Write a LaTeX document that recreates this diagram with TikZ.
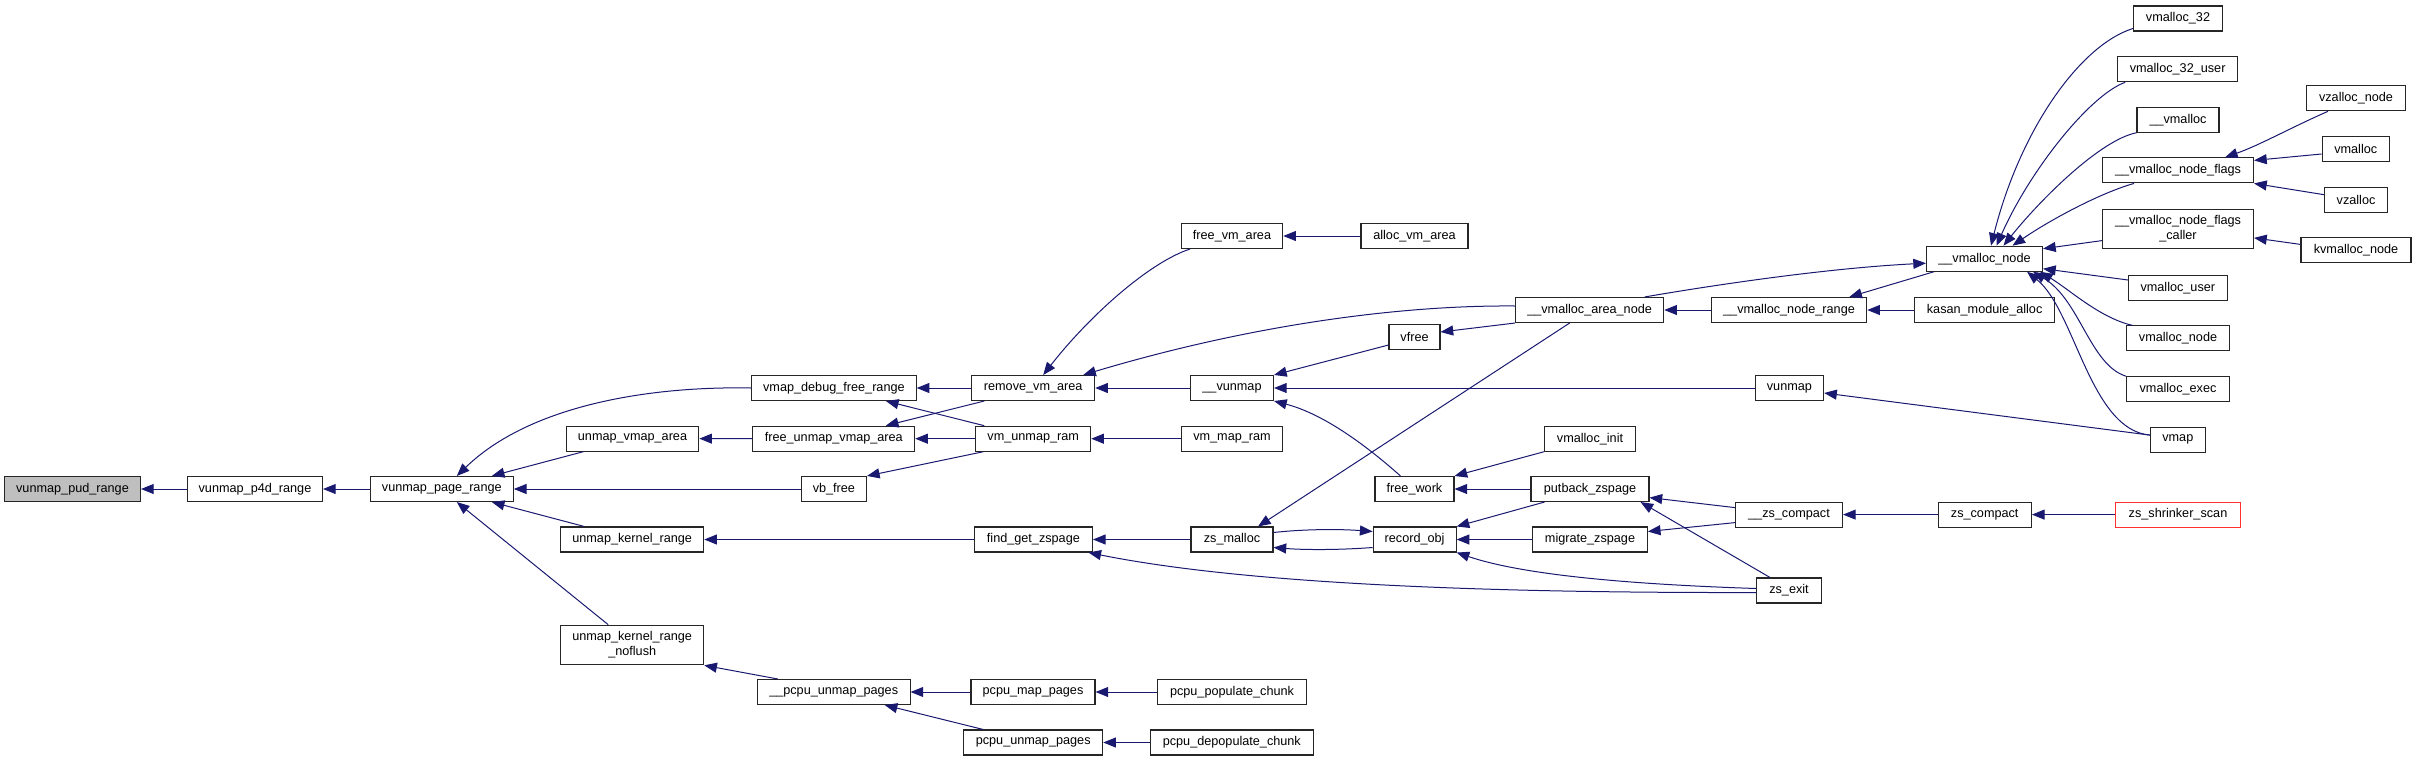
\documentclass[tikz,border=0pt]{standalone}
\usepackage{fontspec}
\setmainfont{Liberation Sans}
\usetikzlibrary{arrows.meta,positioning,calc}
\definecolor{EdgeBlue}{HTML}{191970}
\definecolor{BoxGrey}{HTML}{BFBFBF}
\definecolor{CutRed}{HTML}{FF3030}

\begin{document}
\begin{tikzpicture}[
    x=0.75pt, y=-0.75pt,
    fn/.style={draw=black!85, fill=white, line width=0.8pt, minimum height=18.75pt, inner sep=0pt, align=center, font=\fontsize{9.5}{11.2}\selectfont},
    cur/.style={fn, fill=BoxGrey},
    cut/.style={fn, draw=CutRed},
    tall/.style={minimum height=29.7pt},
    call/.style={-{Triangle[length=9.5pt,width=7.5pt]}, draw=EdgeBlue, line width=0.75pt}
  ]
    \useasboundingbox (0,0) rectangle (2416,761);

    \node[cur, minimum width=102pt] (pud) at (72.5,489) {vunmap\_pud\_range};
    \node[fn, minimum width=101.25pt] (p4d) at (255,489) {vunmap\_p4d\_range};
    \node[fn, minimum width=107.25pt] (pagerange) at (441.8,489) {vunmap\_page\_range};
    \node[fn, minimum width=99.4pt] (unmapvmap) at (632.5,438.6) {unmap\_vmap\_area};
    \node[fn, minimum width=107.25pt] (unmapkr) at (632.2,539.5) {unmap\_kernel\_range};
    \node[fn, tall, minimum width=107.25pt] (noflush) at (632.2,645) {unmap\_kernel\_range\\\_noflush};
    \node[fn, minimum width=123.4pt] (vmapdebug) at (833.9,388) {vmap\_debug\_free\_range};
    \node[fn, minimum width=121.3pt] (freeunmap) at (833.8,438.7) {free\_unmap\_vmap\_area};
    \node[fn, minimum width=48.75pt] (vbfree) at (833.9,489) {vb\_free};
    \node[fn, minimum width=114.5pt] (pcpuunmapx) at (833.7,692) {\_\_pcpu\_unmap\_pages};
    \node[fn, minimum width=92.25pt] (removevm) at (1033.2,388) {remove\_vm\_area};
    \node[fn, minimum width=86.25pt] (vmunmapram) at (1033.2,438.7) {vm\_unmap\_ram};
    \node[fn, minimum width=88.5pt] (findget) at (1033.4,539.5) {find\_get\_zspage};
    \node[fn, minimum width=93pt] (pcpumap) at (1033,692) {pcpu\_map\_pages};
    \node[fn, minimum width=104.25pt] (pcpuunmap) at (1033.2,742.5) {pcpu\_unmap\_pages};
    \node[fn, minimum width=76.1pt] (freevm) at (1232,236) {free\_vm\_area};
    \node[fn, minimum width=62.25pt] (vunmapx) at (1232,388) {\_\_vunmap};
    \node[fn, minimum width=76.1pt] (vmmapram) at (1232,438.7) {vm\_map\_ram};
    \node[fn, minimum width=61.5pt] (zsmalloc) at (1232,539.5) {zs\_malloc};
    \node[fn, minimum width=111.75pt] (populate) at (1232,692) {pcpu\_populate\_chunk};
    \node[fn, minimum width=122.6pt] (depopulate) at (1231.8,742.5) {pcpu\_depopulate\_chunk};
    \node[fn, minimum width=80.25pt] (allocvm) at (1414.5,236) {alloc\_vm\_area};
    \node[fn, minimum width=38.25pt] (vfree) at (1414.5,337) {vfree};
    \node[fn, minimum width=59.25pt] (freework) at (1414.5,489) {free\_work};
    \node[fn, minimum width=62.25pt] (recordobj) at (1414.6,539.5) {record\_obj};
    \node[fn, minimum width=111.2pt] (areanode) at (1589.6,310) {\_\_vmalloc\_area\_node};
    \node[fn, minimum width=68.25pt] (vmallocinit) at (1590,438.7) {vmalloc\_init};
    \node[fn, minimum width=88.5pt] (putback) at (1590,489) {putback\_zspage};
    \node[fn, minimum width=86pt] (migrate) at (1590,539.5) {migrate\_zspage};
    \node[fn, minimum width=116.6pt] (noderange) at (1789,310) {\_\_vmalloc\_node\_range};
    \node[fn, minimum width=51.3pt] (vunmap) at (1789.4,388) {vunmap};
    \node[fn, minimum width=80.25pt] (zscompactx) at (1789,514.6) {\_\_zs\_compact};
    \node[fn, minimum width=48.4pt] (zsexit) at (1789,590.5) {zs\_exit};
    \node[fn, minimum width=87pt] (vmallocnodex) at (1984.5,258.7) {\_\_vmalloc\_node};
    \node[fn, minimum width=105.5pt] (kasan) at (1984.6,310) {kasan\_module\_alloc};
    \node[fn, minimum width=70pt] (zscompact) at (1984.7,514.6) {zs\_compact};
    \node[cut, minimum width=93.75pt] (shrinker) at (2178,514.6) {zs\_shrinker\_scan};
    \node[fn, minimum width=66.75pt] (vmalloc32) at (2178,18.5) {vmalloc\_32};
    \node[fn, minimum width=90pt] (vmalloc32user) at (2177.6,69.3) {vmalloc\_32\_user};
    \node[fn, minimum width=61.5pt] (vmallocx) at (2178,119.7) {\_\_vmalloc};
    \node[fn, minimum width=113.25pt] (nodeflags) at (2178,170.4) {\_\_vmalloc\_node\_flags};
    \node[fn, tall, minimum width=113.25pt] (flagscaller) at (2178,228.9) {\_\_vmalloc\_node\_flags\\\_caller};
    \node[fn, minimum width=73.9pt] (vmallocuser) at (2177.8,288) {vmalloc\_user};
    \node[fn, minimum width=77.25pt] (vmallocnode) at (2178,338.4) {vmalloc\_node};
    \node[fn, minimum width=77.25pt] (vmallocexec) at (2178,389.2) {vmalloc\_exec};
    \node[fn, minimum width=40.9pt] (vmap) at (2177.8,439.8) {vmap};
    \node[fn, minimum width=74.25pt] (vzallocnode) at (2356,98.3) {vzalloc\_node};
    \node[fn, minimum width=50.5pt] (vmalloc) at (2355.7,149) {vmalloc};
    \node[fn, minimum width=47.1pt] (vzalloc) at (2356,199.7) {vzalloc};
    \node[fn, minimum width=82.5pt] (kvmallocnode) at (2356,250.4) {kvmalloc\_node};

    \draw[call] (p4d) -- (pud);
    \draw[call] (pagerange) -- (p4d);
    \draw[call] (vmapdebug.west) .. controls (650,386) and (530,405) .. ($(pagerange.north)+(15,0)$);
    \draw[call] ($(unmapvmap.south)+(-49,0)$) -- ($(pagerange.north)+(50,0)$);
    \draw[call] (vbfree) -- (pagerange);
    \draw[call] ($(unmapkr.north)+(-48,0)$) -- ($(pagerange.south)+(50,0)$);
    \draw[call] ($(noflush.north)+(-24,0)$) -- ($(pagerange.south)+(15,0)$);
    \draw[call] (removevm) -- (vmapdebug);
    \draw[call] ($(vmunmapram.north)+(-49,0)$) -- ($(vmapdebug.south)+(52,0)$);
    \draw[call] (freeunmap) -- (unmapvmap);
    \draw[call] ($(removevm.south)+(-49,0)$) -- ($(freeunmap.north)+(52,0)$);
    \draw[call] (vmunmapram) -- (freeunmap);
    \draw[call] ($(vmunmapram.south)+(-50,0)$) -- (vbfree.north east);
    \draw[call] (findget) -- (unmapkr);
    \draw[call] ($(pcpuunmapx.north)+(-56,0)$) -- (noflush.south east);
    \draw[call] (pcpumap) -- (pcpuunmapx);
    \draw[call] ($(pcpuunmap.north)+(-50,0)$) -- ($(pcpuunmapx.south)+(51,0)$);
    \draw[call] (populate) -- (pcpumap);
    \draw[call] (depopulate) -- (pcpuunmap);
    \draw[call] ($(freevm.south)+(-42,0)$) .. controls (1150,262) and (1090,315) .. ($(removevm.north)+(10,0)$);
    \draw[call] ($(areanode.west)+(0,-4)$) .. controls (1400,305) and (1250,325) .. ($(removevm.north)+(50,0)$);
    \draw[call] (vunmapx) -- (removevm);
    \draw[call] (vmmapram) -- (vmunmapram);
    \draw[call] (zsmalloc) -- (findget);
    \draw[call] ($(zsexit.west)+(0,2)$) .. controls (1500,593) and (1250,585) .. ($(findget.south)+(55,0)$);
    \draw[call] (allocvm) -- (freevm);
    \draw[call] ($(vfree.west)+(0,8)$) -- (vunmapx.north east);
    \draw[call] (vunmap) -- (vunmapx);
    \draw[call] ($(freework.north)+(-14,0)$) .. controls (1360,440) and (1320,413) .. (vunmapx.south east);
    \draw[call] (areanode.south west) -- ($(vfree.east)+(0,-5)$);
    \draw[call] (noderange) -- (areanode);
    \draw[call] ($(areanode.south)+(-20,0)$) -- ($(zsmalloc.north)+(26,0)$);
    \draw[call] ($(zsmalloc.east)+(0,-7)$) .. controls (1305,529) and (1340,529) .. ($(recordobj.west)+(0,-8)$);
    \draw[call] ($(recordobj.west)+(0,8)$) .. controls (1340,550) and (1305,550) .. ($(zsmalloc.east)+(0,8)$);
    \draw[call] (vmallocinit.south west) -- (freework.north east);
    \draw[call] (putback) -- (freework);
    \draw[call] ($(putback.south west)+(14,0)$) -- (recordobj.north east);
    \draw[call] (migrate) -- (recordobj);
    \draw[call] ($(zsexit.west)+(0,-2)$) .. controls (1620,584) and (1520,574) .. (recordobj.south east);
    \draw[call] ($(zscompactx.west)+(0,-7)$) -- ($(putback.east)+(0,8.6)$);
    \draw[call] ($(zsexit.north)+(-19,0)$) -- ($(putback.south east)+(-9,0)$);
    \draw[call] ($(zscompactx.west)+(0,8)$) -- ($(migrate.east)+(0,-8)$);
    \draw[call] (zscompact) -- (zscompactx);
    \draw[call] (shrinker) -- (zscompact);
    \draw[call] ($(vmallocnodex.south west)+(8,0)$) -- ($(noderange.north east)+(-18,0)$);
    \draw[call] (kasan) -- (noderange);
    \draw[call] ($(areanode.north)+(55,0)$) .. controls (1720,284) and (1830,268) .. ($(vmallocnodex.west)+(0,4.5)$);
    \draw[call] ($(vmap.west)+(0,-4.7)$) -- ($(vunmap.east)+(0,5)$);
    \draw[call] ($(vmalloc32.west)+(0,10)$) .. controls (2080,45) and (2020,130) .. ($(vmallocnodex.north)+(6.5,0)$);
    \draw[call] ($(vmalloc32user.south west)+(8,0)$) .. controls (2090,95) and (2030,170) .. ($(vmallocnodex.north)+(12,0)$);
    \draw[call] (vmallocx.south west) .. controls (2100,140) and (2040,200) .. ($(vmallocnodex.north)+(19,0)$);
    \draw[call] ($(nodeflags.south west)+(32,0)$) .. controls (2100,193) and (2050,220) .. ($(vmallocnodex.north)+(28,0)$);
    \draw[call] ($(flagscaller.west)+(0,11.7)$) -- ($(vmallocnodex.east)+(0,-10)$);
    \draw[call] ($(vmallocuser.west)+(0,-8)$) -- ($(vmallocnodex.east)+(0,10)$);
    \draw[call] ($(vmallocnode.north west)+(6.5,0)$) .. controls (2100,318) and (2070,290) .. ($(vmallocnodex.south east)+(-3,0)$);
    \draw[call] (vmallocexec.north west) .. controls (2090,365) and (2080,300) .. ($(vmallocnodex.south east)+(-10,0)$);
    \draw[call] ($(vmap.west)+(0,-4.7)$) .. controls (2090,430) and (2075,310) .. ($(vmallocnodex.south east)+(-16,0)$);
    \draw[call] ($(vzallocnode.south west)+(22,0)$) .. controls (2290,128) and (2260,145) .. ($(nodeflags.north)+(47,0)$);
    \draw[call] ($(vmalloc.west)+(0,5)$) -- ($(nodeflags.east)+(0,-10)$);
    \draw[call] ($(vzalloc.west)+(0,-5)$) -- (nodeflags.south east);
    \draw[call] ($(kvmallocnode.west)+(0,-6)$) -- ($(flagscaller.east)+(0,9)$);
  \end{tikzpicture}
\end{document}
